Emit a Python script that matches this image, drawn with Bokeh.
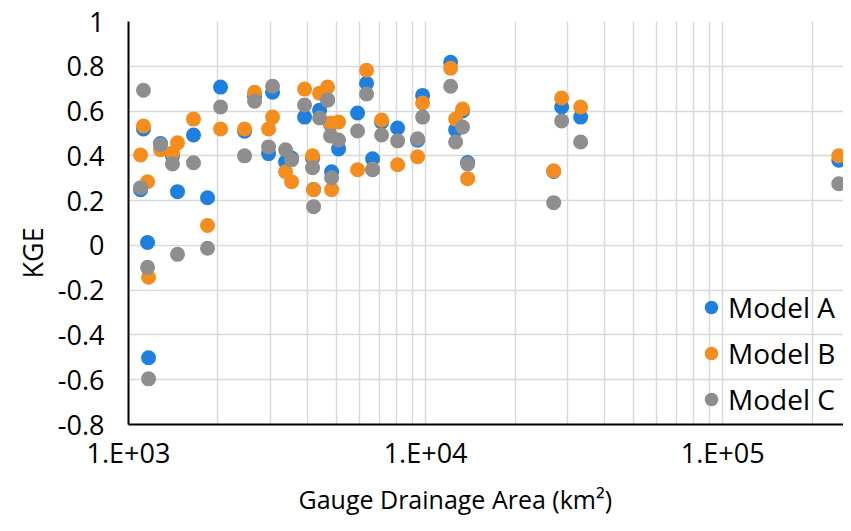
from bokeh.plotting import figure
from bokeh.models import (ColumnDataSource, FixedTicker, CustomJSTickFormatter,
                          Legend, LegendItem, Title)
from bokeh.embed import file_html
from bokeh.resources import INLINE

# Gauge drainage area (km2)
area = [1123, 1098, 1159, 1168, 1282, 1406, 1462, 1655, 1845, 2041,
        2458, 2656, 3054, 2961, 3378, 3539, 3914, 4164, 4197, 4397,
        4677, 4786, 5094, 4826, 5902, 6328, 6630, 7110, 8050, 9398,
        9770, 12140, 13320, 12620, 13850, 26980, 28700, 33250, 245800]

kge_a = [0.52, 0.249, 0.013, -0.502, 0.455, 0.40, 0.24, 0.493, 0.213, 0.707,
         0.51, 0.665, 0.684, 0.41, 0.373, 0.39, 0.573, 0.39, 0.25, 0.604,
         0.65, 0.54, 0.431, 0.329, 0.591, 0.724, 0.387, 0.55, 0.524, 0.47,
         0.67, 0.818, 0.60, 0.516, 0.37, 0.33, 0.618, 0.573, 0.38]

kge_b = [0.533, 0.404, 0.284, -0.142, 0.427, 0.413, 0.458, 0.564, 0.089, 0.52,
         0.52, 0.684, 0.573, 0.52, 0.329, 0.284, 0.698, 0.40, 0.249, 0.68,
         0.707, 0.547, 0.551, 0.249, 0.338, 0.782, 0.34, 0.56, 0.36, 0.396,
         0.636, 0.791, 0.609, 0.564, 0.298, 0.333, 0.658, 0.618, 0.40]

kge_c = [0.693, 0.258, -0.098, -0.596, 0.45, 0.364, -0.04, 0.369, -0.013, 0.618,
         0.40, 0.644, 0.711, 0.44, 0.427, 0.382, 0.627, 0.347, 0.173, 0.569,
         0.649, 0.489, 0.471, 0.302, 0.511, 0.676, 0.338, 0.493, 0.467, 0.476,
         0.573, 0.711, 0.529, 0.462, 0.364, 0.191, 0.556, 0.462, 0.275]

series_names = ["Model A", "Model B", "Model C"]
series_colors = ["#1f7fdf", "#f58d1e", "#8e8e8e"]

x_major = [1e3, 1e4, 1e5]
x_minor = [2e3, 3e3, 4e3, 5e3, 6e3, 7e3, 8e3, 9e3,
           2e4, 3e4, 4e4, 5e4, 6e4, 7e4, 8e4, 9e4, 2e5]
y_ticks = [-0.8, -0.6, -0.4, -0.2, 0.0, 0.2, 0.4, 0.6, 0.8, 1.0]

x_title = "Gauge Drainage Area (km²)"
y_title = "KGE"

FONT = "Open Sans"

src = ColumnDataSource(dict(area=area, a=kge_a, b=kge_b, c=kge_c))

p = figure(width=843, height=523, x_axis_type="log",
           x_range=(1000, 255000), y_range=(-0.8, 1.0),
           output_backend="svg", toolbar_location=None,
           min_border_left=128, min_border_right=0,
           min_border_top=21, min_border_bottom=99)
p.outline_line_color = None
p.background_fill_color = "white"
p.border_fill_color = "white"

renderers = []
for col, name, color in zip(["a", "b", "c"], series_names, series_colors):
    r = p.scatter(x="area", y=col, source=src, size=15, marker="circle",
                  fill_color=color, line_color=None)
    renderers.append(r)

# axes
p.xaxis.ticker = FixedTicker(ticks=x_major, minor_ticks=x_minor)
p.yaxis.ticker = FixedTicker(ticks=y_ticks)
p.xaxis.formatter = CustomJSTickFormatter(
    code="return tick.toExponential(0).replace('e+', '.E+0');")
p.yaxis.formatter = CustomJSTickFormatter(
    code="return (Math.round(tick*10)/10).toString();")

for ax in (p.xaxis, p.yaxis):
    ax.axis_line_color = "black"
    ax.axis_line_width = 2
    ax.major_tick_line_color = None
    ax.minor_tick_line_color = None
    ax.major_tick_out = 0
    ax.major_tick_in = 0
    ax.minor_tick_out = 0
    ax.minor_tick_in = 0
    ax.major_label_text_font = FONT
    ax.major_label_text_font_size = "27px"
    ax.major_label_text_color = "black"

p.xaxis.major_label_standoff = 9
p.yaxis.major_label_standoff = 24

# axis titles as Titles so they can be offset like the reference
xt = Title(text=x_title, align="left", offset=170, standoff=13,
           text_font=FONT, text_font_size="25px", text_font_style="normal",
           text_color="black")
p.add_layout(xt, "below")
yt = Title(text=y_title, align="left", offset=146, standoff=8,
           text_font=FONT, text_font_size="27px", text_font_style="normal",
           text_color="black")
p.add_layout(yt, "left")

p.xgrid.grid_line_color = "#d9d9d9"
p.xgrid.grid_line_width = 1.5
p.xgrid.minor_grid_line_color = "#d9d9d9"
p.xgrid.minor_grid_line_width = 1.5
p.ygrid.grid_line_color = "#d9d9d9"
p.ygrid.grid_line_width = 1.5

legend = Legend(items=[LegendItem(label=n, renderers=[r])
                       for n, r in zip(series_names, renderers)],
                location=(566, 6), padding=0, margin=0, spacing=8,
                glyph_width=34, glyph_height=34, label_height=34,
                label_standoff=0,
                label_text_font=FONT, label_text_font_size="28px",
                label_text_color="black",
                background_fill_alpha=0, border_line_color=None)
p.add_layout(legend)

open("out.html", "w").write(file_html(p, INLINE))
